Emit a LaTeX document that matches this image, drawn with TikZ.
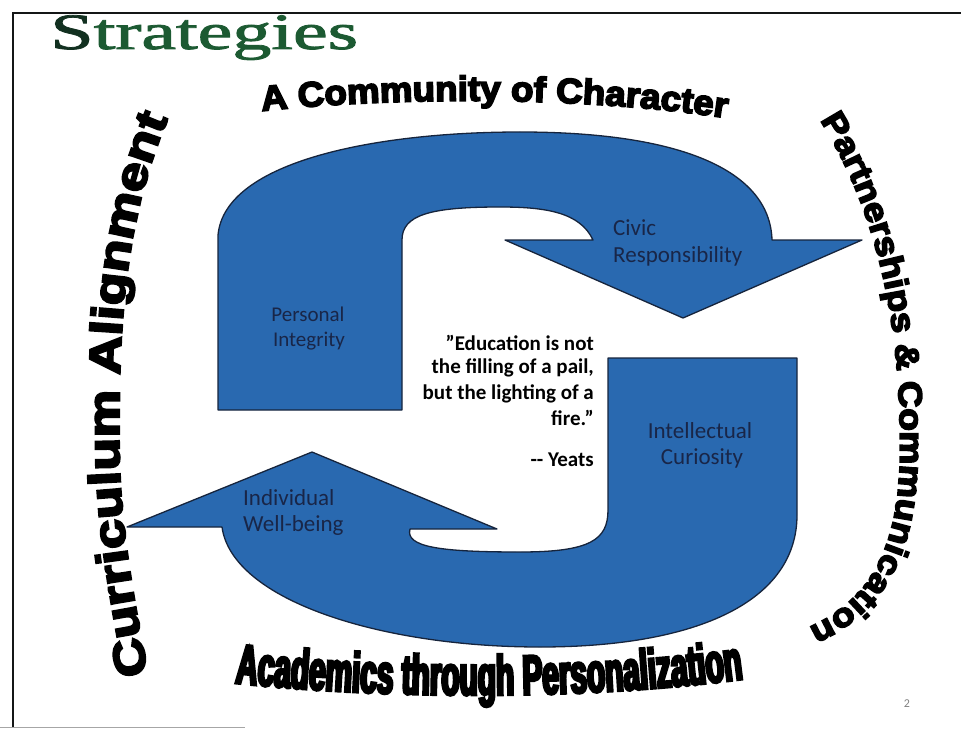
\documentclass[tikz,border=0pt]{standalone}
\usepackage{fontspec}
\setmainfont{Carlito}
\newfontfamily\titlefont{Liberation Serif}[FakeBold=1.5]
\newfontfamily\leftarcfont{Liberation Sans}[FakeBold=5,FakeStretch=1.22]
\newfontfamily\toparcfont{Liberation Sans}[FakeBold=5,FakeStretch=1.05]
\newfontfamily\rightarcfont{Liberation Sans}[FakeBold=5,FakeStretch=1.13]
\newfontfamily\tallfont{Liberation Sans}[FakeBold=5,FakeStretch=0.535]
\usetikzlibrary{decorations.text}
\definecolor{cycleblue}{RGB}{41,105,176}
\definecolor{edgeblue}{RGB}{22,36,60}
\definecolor{labelnavy}{RGB}{25,38,72}
\definecolor{titlegreen}{RGB}{28,90,50}
\definecolor{titledark}{RGB}{18,48,32}
\definecolor{framegray}{RGB}{20,22,22}
\begin{document}
\begin{tikzpicture}[x=1pt,y=-1pt,
  cyclearrow/.style={fill=cycleblue, draw=edgeblue, line width=1.3pt, line join=round},
  stagelabel/.style={text=labelnavy, inner sep=0pt, font=\fontsize{23}{27}\selectfont},
  quoteline/.style={text=black, inner sep=0pt, anchor=base east, font=\bfseries\fontsize{21}{25}\selectfont},
  frameline/.style={draw=framegray, line width=1.8pt},
]
\useasboundingbox (0,0) rectangle (961,730);

% slide frame
\draw[frameline] (13,727) -- (13,13) -- (961,13);
\draw[draw=gray!70, line width=1pt] (0,727) -- (245,727);

% title
\node[anchor=base west, inner sep=0pt, xscale=1.53,
      font=\titlefont\fontsize{51}{51}\selectfont] (title) at (50,49)
  {\textcolor{titledark}{S}\textcolor{titlegreen}{trategies}};

% upper arrow: Personal Integrity -> Civic Responsibility
\path[cyclearrow] (218,410) -- (218,235)
  .. controls (225,160) and (380,132) .. (520,132)
  .. controls (680,132) and (770,170) .. (772,240)
  -- (862,240) -- (683,318) -- (505,240) -- (593,240)
  .. controls (580,212) and (545,207) .. (500,207)
  .. controls (430,207) and (402,215) .. (402,240)
  -- (402,410) -- cycle;

% lower arrow: Intellectual Curiosity -> Individual Well-being
\path[cyclearrow] (608,358) -- (797,358) -- (797,515)
  .. controls (797,600) and (700,647) .. (540,647)
  .. controls (380,647) and (232,600) .. (222,527)
  -- (127,527) -- (312,452) -- (497,529) -- (410,529)
  .. controls (405,547) and (440,552) .. (520,552)
  .. controls (590,552) and (608,540) .. (608,510) -- cycle;

% stage labels
\node[stagelabel, anchor=base, font=\fontsize{21}{25}\selectfont] (pi1) at (308,321) {Personal};
\node[stagelabel, anchor=base, font=\fontsize{21}{25}\selectfont] (pi2) at (309,346) {Integrity};
\node[stagelabel, anchor=base west] (cr1) at (613,236) {Civic};
\node[stagelabel, anchor=base west] (cr2) at (613,262) {Responsibility};
\node[stagelabel, anchor=base] (ic1) at (700,438) {Intellectual};
\node[stagelabel, anchor=base] (ic2) at (702,464) {Curiosity};
\node[stagelabel, anchor=base west] (iw1) at (243,505) {Individual};
\node[stagelabel, anchor=base west] (iw2) at (243,531) {Well-being};

% quotation
\node[quoteline] (q1) at (594,350) {"Education is not};
\node[quoteline] (q2) at (594,373) {the filling of a pail,};
\node[quoteline] (q3) at (594,399) {but the lighting of a};
\node[quoteline] (q4) at (594,425) {fire."};
\node[quoteline] (q5) at (594,466) {-{}- Yeats};

% arched headings around the cycle (baselines; paths run a little past the text)
\path[decorate, decoration={text along path,
  text={|\leftarcfont\bfseries\fontsize{44}{44}\selectfont|Curriculum Alignment}}]
  (148,674) .. controls (132,590) and (119,520) .. (119,440)
  .. controls (119,330) and (122,210) .. (180,92);
\path[decorate, decoration={text along path,
  text={|\toparcfont\bfseries\fontsize{35}{35}\selectfont|A Community of Character}}]
  (262,111) .. controls (400,96) and (600,96) .. (745,121);
\path[decorate, decoration={text along path,
  text={|\rightarcfont\bfseries\fontsize{33}{33}\selectfont|Partnerships {\&} Communication}}]
  (820,120) .. controls (870,200) and (898,300) .. (900,430)
  .. controls (903,545) and (875,615) .. (770,640);
\path[decorate, decoration={text along path,
  text={|\tallfont\bfseries\fontsize{56}{56}\selectfont|Academics through Personalization}}]
  (235,683) .. controls (400,700) and (600,700) .. (765,676);

% page number
\node[text=gray, inner sep=0pt, anchor=base, font=\fontsize{12}{12}\selectfont] (page) at (907,707) {2};
\end{tikzpicture}
\end{document}
